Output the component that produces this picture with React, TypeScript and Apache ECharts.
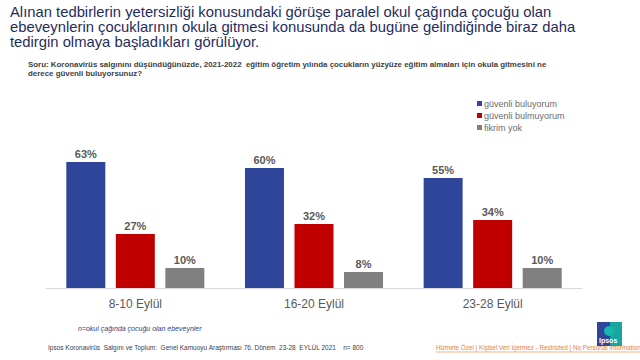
import React, { useEffect, useRef } from "react";
import * as echarts from "echarts";

const categories = ["8-10 Eylül", "16-20 Eylül", "23-28 Eylül"];
const seriesNames = ["güvenli buluyorum", "güvenli bulmuyorum", "fikrim yok"];
const safeValues = [63, 60, 55];
const unsafeValues = [27, 32, 34];
const noIdeaValues = [10, 8, 10];
const colors = ["#2E4599", "#C00000", "#808080"];

const titleLines = [
  "Alınan tedbirlerin yetersizliği konusundaki görüşe paralel okul çağında çocuğu olan",
  "ebeveynlerin çocuklarının okula gitmesi konusunda da bugüne gelindiğinde biraz daha",
  "tedirgin olmaya başladıkları görülüyor.",
];
const questionLines = [
  "Soru: Koronavirüs salgınını düşündüğünüzde, 2021-2022  eğitim öğretim yılında çocukların yüzyüze eğitim almaları için okula gitmesini ne",
  "derece güvenli buluyorsunuz?",
];
const noteText = "n=okul çağında çocuğu olan ebeveynler";
const sourceText = "Ipsos Koronavirüs  Salgını ve Toplum:  Genel Kamuoyu Araştırması 76. Dönem  23-28  EYLÜL 2021    n= 800";
const classText = "Hizmete Özel | Kişisel Veri İçermez - Restricted | No Personal Information";

const FONT = "'Liberation Sans', Arial, sans-serif";

export default function App() {
  const ref = useRef<HTMLDivElement>(null);
  useEffect(() => {
    if (!ref.current) return;
    const chart = echarts.init(ref.current, null, { renderer: "svg" });
    const allValues = [safeValues, unsafeValues, noIdeaValues];
    chart.setOption({
      animation: false,
      backgroundColor: "#ffffff",
      textStyle: { fontFamily: FONT },
      grid: { left: 46, right: 58, top: 148, bottom: 72 },
      legend: {
        orient: "vertical",
        left: 472,
        top: 94,
        itemWidth: 5,
        itemHeight: 5,
        itemGap: 3,
        icon: "rect",
        data: seriesNames,
        textStyle: { fontSize: 9, color: "#6B6B6B", fontFamily: FONT, padding: [0, 0, 0, -3] },
      },
      xAxis: {
        type: "category",
        data: categories,
        axisLine: { lineStyle: { color: "#D9D9D9", width: 1 } },
        axisTick: { show: false },
        axisLabel: { color: "#595959", fontSize: 12, margin: 10, fontFamily: FONT },
      },
      yAxis: {
        type: "value",
        min: 0,
        max: 70,
        show: false,
        splitLine: { show: false },
      },
      series: seriesNames.map((name, i) => ({
        name,
        type: "bar",
        data: allValues[i],
        barWidth: 39,
        barGap: "27%",
        itemStyle: { color: colors[i] },
        label: {
          show: true,
          position: "top",
          distance: 3,
          formatter: "{c}%",
          fontSize: 11,
          fontWeight: "bold",
          color: "#595959",
          fontFamily: FONT,
        },
      })),
      graphic: [
        ...titleLines.map((t, i) => ({
          type: "text",
          left: 10,
          top: 4 + i * 15,
          style: { text: t, fontSize: 14.8, fill: "#1F2D5C", fontFamily: FONT },
        })),
        ...questionLines.map((t, i) => ({
          type: "text",
          left: 28,
          top: 60 + i * 9,
          style: { text: t, fontSize: 7.9, fontWeight: "bold", fill: "#404040", fontFamily: FONT },
        })),
        {
          type: "text",
          left: 78,
          top: 325,
          style: { text: noteText, fontSize: 7, fontStyle: "italic", fill: "#2E3F80", fontFamily: FONT },
        },
        {
          type: "text",
          left: 48,
          top: 344,
          style: { text: sourceText, fontSize: 6.5, fill: "#404040", fontFamily: FONT },
        },
        {
          type: "text",
          left: 436,
          top: 344,
          style: { text: classText, fontSize: 6.3, fill: "#ED7D31", fontFamily: FONT },
        },
        {
          type: "line",
          shape: { x1: 436, y1: 352, x2: 640, y2: 352 },
          style: { stroke: "#ED7D31", lineWidth: 0.6 },
        },
        {
          type: "rect",
          shape: { x: 597, y: 322, width: 25, height: 24 },
          style: { fill: "#1BA5A0" },
        },
        {
          type: "rect",
          shape: { x: 597, y: 322, width: 13, height: 24 },
          style: { fill: "#2E4599" },
        },
        {
          type: "circle",
          shape: { cx: 609, cy: 331, r: 5 },
          style: { fill: "#16B5AE" },
        },
        {
          type: "text",
          left: 599,
          top: 337,
          style: { text: "Ipsos", fontSize: 7, fill: "#ffffff", fontWeight: "bold", fontFamily: FONT },
        },
      ],
    });
    return () => chart.dispose();
  }, []);
  return <div ref={ref} style={{ width: 640, height: 360, position: "absolute", left: 0, top: 0 }} />;
}
